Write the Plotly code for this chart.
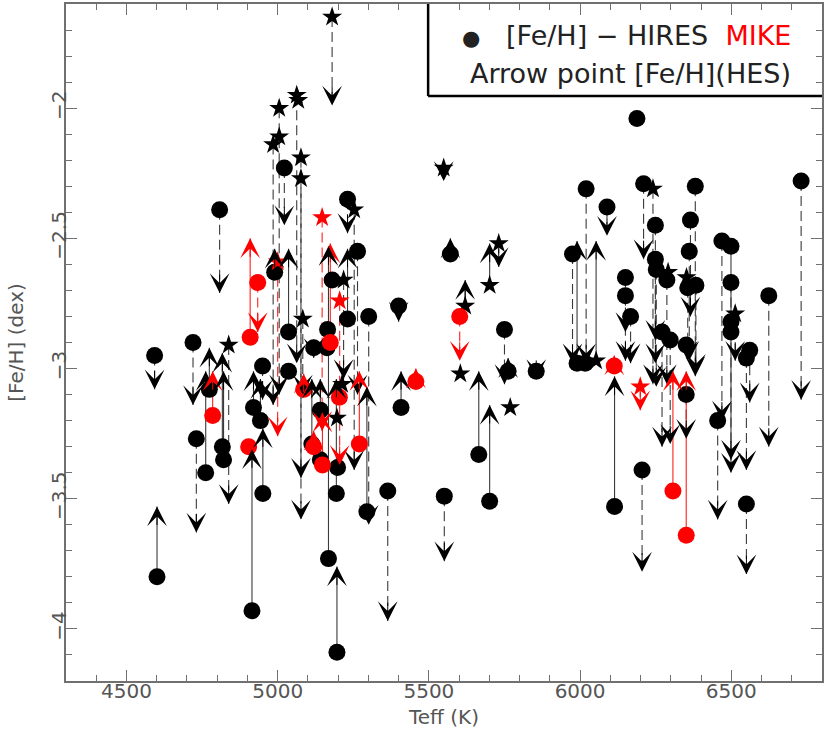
import plotly.graph_objects as go

# ---- data ----
teff = [4593, 4601, 4720, 4731, 4774, 4762, 4785, 4808, 4817, 4821,
        4838, 4909, 4934, 4904, 4915, 4920, 4943, 4951, 4950, 4985,
        5005, 5005, 4990, 5022, 5000, 5036, 5036, 5063, 5068, 5077,
        5077, 5083, 5086, 5119, 5141, 5113, 5119, 5141, 5148, 5147,
        5165, 5163, 5174, 5168, 5180, 5180, 5218, 5231, 5253, 5264,
        5231, 5301, 5205, 5204, 5198, 5194, 5196, 5213, 5196, 5270,
        5295, 5364, 5400, 5408, 5457, 5549, 5571, 5551, 5602, 5604,
        5620, 5701, 5731, 5665, 5701, 5750, 5762, 5769, 5855, 5975,
        5990, 6017, 6020, 6053, 6089, 6113, 6114, 6150, 6150, 6167,
        6188, 6199, 6205, 6210, 6241, 6249, 6249, 6252, 6271, 6287,
        6291, 6298, 6307, 6351, 6351, 6351, 6365, 6361, 6356, 6383,
        6352, 6381, 6455, 6469, 6499, 6499, 6513, 6499, 6499, 6561,
        6550, 6550, 6624, 6731]

feh_hires = [-2.95, -3.80, -2.90, -3.27, -3.08, -3.40, -3.18, -2.39, -3.30, -3.35,
             -2.91, -2.88, -2.67, -3.30, -3.93, -3.15, -3.20, -3.48, -2.99, -2.14,
             -2.00, -2.11, -2.63, -2.23, -2.59, -2.86, -3.01, -1.95, -1.97, -2.19,
             -2.27, -2.81, -3.08, -2.92, -3.16, -3.29, -3.30, -3.35, -3.37, -2.42,
             -2.85, -2.92, -2.90, -3.73, -1.65, -2.66, -2.66, -2.35, -2.39, -2.55,
             -2.81, -2.80, -2.74, -3.11, -3.38, -3.48, -4.09, -3.06, -3.19, -3.29,
             -3.55, -3.47, -2.76, -3.15, -3.05, -2.23, -2.56, -3.49, -2.80, -3.02,
             -2.76, -2.68, -2.52, -3.33, -3.51, -2.85, -3.01, -3.15, -3.01, -2.56,
             -2.98, -2.98, -2.31, -2.97, -2.38, -2.99, -3.53, -2.65, -2.72, -2.80,
             -2.04, -3.07, -3.39, -2.29, -2.31, -2.45, -2.58, -2.62, -2.86, -2.66,
             -2.63, -2.89, -3.47, -3.64, -3.10, -2.91, -2.43, -2.55, -2.69, -2.68,
             -2.65, -2.30, -3.20, -2.51, -2.53, -2.67, -2.79, -2.82, -2.86, -2.93,
             -2.96, -3.52, -2.72, -2.28]

feh_hes = [-3.08, -3.53, -3.14, -3.63, -2.92, -3.01, -3.01, -2.71, -2.94, -3.01,
           -3.52, -2.50, -2.86, None, -3.31, -3.01, -3.04, -3.23, -3.12, -3.14,
           -3.10, None, -2.54, -2.45, -3.26, -2.54, None, -2.98, None, -3.42,
           -3.58, -3.10, -3.02, -2.96, -3.04, -3.04, -3.24, None, -3.17, -3.24,
           None, None, -2.52, -2.53, -1.99, None, -3.04, -2.48, -3.39, -3.10,
           -2.54, -3.60, -3.37, None, None, -3.04, -3.76, None, None, -3.01,
           -3.07, -3.97, -2.82, -3.01, -3.00, -2.28, -2.50, -3.74, -2.97, None,
           -2.66, -2.52, -2.61, -3.01, -3.14, -3.06, -2.96, None, -3.04, -2.98,
           -2.51, None, -2.98, -2.51, -2.49, -2.95, -3.03, -2.86, -2.97, -2.98,
           None, -3.16, -3.78, -2.58, -3.06, -2.89, -2.98, -3.07, -3.30, -3.06,
           None, -3.29, -3.01, -3.01, -3.27, None, -2.80, -2.97, -2.97, -3.02,
           None, -3.03, -3.58, -3.20, -3.35, -3.40, -2.97, None, None, -3.13,
           -3.39, -3.79, -3.30, -3.12]

symbol = ['o', 'o', 'o', 'o', 'o', 'o', 'o', 'o', 'o', 'o',
          '*', 'o', 'o', 'o', 'o', 'o', 'o', 'o', 'o', '*',
          '*', '*', 'o', 'o', '*', 'o', 'o', '*', '*', '*',
          '*', '*', 'o', 'o', 'o', 'o', 'o', 'o', 'o', '*',
          'o', 'o', 'o', 'o', '*', 'o', '*', 'o', '*', 'o',
          'o', 'o', '*', 'o', 'o', 'o', 'o', '*', '*', 'o',
          'o', 'o', 'o', 'o', 'o', '*', 'o', 'o', 'o', '*',
          '*', '*', '*', 'o', 'o', 'o', 'o', '*', 'o', 'o',
          'o', 'o', 'o', '*', 'o', 'o', 'o', 'o', 'o', 'o',
          'o', '*', 'o', 'o', '*', 'o', 'o', 'o', 'o', 'o',
          '*', 'o', 'o', 'o', 'o', 'o', 'o', 'o', 'o', 'o',
          '*', 'o', 'o', 'o', 'o', 'o', '*', 'o', 'o', 'o',
          'o', 'o', 'o', 'o']

instrument = ['k', 'k', 'k', 'k', 'k', 'k', 'r', 'k', 'k', 'k',
              'k', 'r', 'r', 'r', 'k', 'k', 'k', 'k', 'k', 'k',
              'k', 'k', 'k', 'k', 'r', 'k', 'k', 'k', 'k', 'k',
              'k', 'k', 'r', 'k', 'k', 'k', 'r', 'k', 'r', 'r',
              'k', 'k', 'r', 'k', 'k', 'k', 'k', 'k', 'k', 'k',
              'k', 'k', 'r', 'r', 'k', 'k', 'k', 'k', 'k', 'r',
              'k', 'k', 'k', 'k', 'r', 'k', 'k', 'k', 'r', 'k',
              'k', 'k', 'k', 'k', 'k', 'k', 'k', 'k', 'k', 'k',
              'k', 'k', 'k', 'k', 'k', 'r', 'k', 'k', 'k', 'k',
              'k', 'r', 'k', 'k', 'k', 'k', 'k', 'k', 'k', 'k',
              'k', 'k', 'r', 'r', 'k', 'k', 'k', 'k', 'k', 'k',
              'k', 'k', 'k', 'k', 'k', 'k', 'k', 'k', 'k', 'k',
              'k', 'k', 'k', 'k']

linestyle = ['d', 's', 'd', 'd', 's', 's', 's', 'd', 's', 's',
             'd', 's', 'd', 's', 's', 's', 's', 's', 'd', 'd',
             'd', 'd', 's', 'd', 'd', 's', 's', 'd', 'd', 'd',
             'd', 'd', 's', 'd', 's', 's', 's', 's', 's', 'd',
             's', 's', 's', 's', 'd', 's', 'd', 'd', 'd', 'd',
             's', 'd', 'd', 's', 's', 's', 's', 's', 's', 's',
             's', 'd', 'd', 's', 's', 'd', 's', 'd', 'd', 's',
             's', 's', 'd', 's', 's', 'd', 's', 's', 'd', 'd',
             's', 's', 'd', 's', 'd', 's', 's', 'd', 'd', 'd',
             's', 'd', 'd', 'd', 'd', 'd', 'd', 'd', 'd', 'd',
             's', 'd', 's', 's', 'd', 's', 'd', 'd', 'd', 'd',
             's', 'd', 'd', 'd', 's', 'd', 'd', 's', 's', 'd',
             'd', 'd', 'd', 'd']

COL = {'k': '#000000', 'r': '#ff0000'}
LINECOL = {'k': '#3a3a3a', 'r': '#ff2020'}

fig = go.Figure()

# arrow shafts
for c in ['k', 'r']:
    for s in ['s', 'd']:
        xs, ys = [], []
        for t, a, b, cc, ss in zip(teff, feh_hires, feh_hes, instrument, linestyle):
            if b is None or cc != c or ss != s:
                continue
            xs += [t, t, None]
            ys += [a, b, None]
        if xs:
            fig.add_trace(go.Scatter(
                x=xs, y=ys, mode='lines', hoverinfo='skip', showlegend=False,
                line=dict(color=LINECOL[c], width=1.1,
                          dash='solid' if s == 's' else '10px,5px')))

# markers
for c in ['k', 'r']:
    for sym, psym, size in [('o', 'circle', 17), ('*', 'star', 15)]:
        xs = [t for t, cc, m in zip(teff, instrument, symbol) if cc == c and m == sym]
        ys = [f for f, cc, m in zip(feh_hires, instrument, symbol) if cc == c and m == sym]
        fig.add_trace(go.Scatter(
            x=xs, y=ys, mode='markers', showlegend=False,
            marker=dict(symbol=psym, size=size, color=COL[c], line=dict(width=0))))

# arrow heads (tip at HES metallicity)
annotations = []
for t, a, b, cc in zip(teff, feh_hires, feh_hes, instrument):
    if b is None:
        continue
    down = b < a
    annotations.append(dict(
        x=t, y=b, xref='x', yref='y', ax=0, ay=-20 if down else 20,
        showarrow=True, arrowhead=3, arrowsize=3.3, arrowwidth=1,
        arrowcolor=COL[cc], standoff=0, text=''))

FONT = 'DejaVu Sans'
annotations.append(dict(
    xref='paper', yref='paper', x=0.741, y=0.953, xanchor='center', yanchor='middle',
    showarrow=False,
    text="<span style='font-size:21px'>●</span>   [Fe/H] − HIRES  "
         "<span style='color:#ff0000'>MIKE</span>",
    font=dict(family=FONT, size=27, color='#222222')))
annotations.append(dict(
    xref='paper', yref='paper', x=0.747, y=0.897, xanchor='center', yanchor='middle',
    showarrow=False, text="Arrow point [Fe/H](HES)",
    font=dict(family=FONT, size=27, color='#222222')))

shapes = [
    dict(type='line', xref='paper', yref='paper', x0=0.479, x1=1.0, y0=0.864, y1=0.864,
         line=dict(color='black', width=2.5)),
    dict(type='line', xref='paper', yref='paper', x0=0.479, x1=0.479, y0=0.864, y1=1.0,
         line=dict(color='black', width=2.5)),
]

axis_common = dict(
    showgrid=False, zeroline=False, showline=True, linecolor='#707070', linewidth=1.5,
    mirror='ticks', ticks='inside', ticklen=11, tickwidth=1.2, tickcolor='#707070',
    tickfont=dict(family=FONT, size=20, color='#555555'), automargin=False,
)

fig.update_layout(
    width=830, height=736,
    margin=dict(l=66, r=8, t=4, b=55),
    plot_bgcolor='white', paper_bgcolor='white',
    annotations=annotations, shapes=shapes,
    xaxis=dict(range=[4300, 6800], dtick=500, tick0=0,
               minor=dict(dtick=100, tick0=0, ticks='inside', ticklen=6,
                          tickwidth=1.2, tickcolor='#707070'),
               ticklabelstandoff=-9,
               title=dict(text='Teff (K)', font=dict(family=FONT, size=20, color='#555555'),
                          standoff=8),
               **axis_common),
    yaxis=dict(range=[-4.2, -1.6], dtick=0.5, tick0=0, tickangle=-90,
               minor=dict(dtick=0.1, tick0=0, ticks='inside', ticklen=6,
                          tickwidth=1.2, tickcolor='#707070'),
               ticklabelstandoff=-10,
               title=dict(text='[Fe/H] (dex)', font=dict(family=FONT, size=20, color='#555555'),
                          standoff=18),
               **axis_common),
)

fig.write_html('out.html', config={'displayModeBar': False},
               post_script="document.body.style.margin='0px';")
